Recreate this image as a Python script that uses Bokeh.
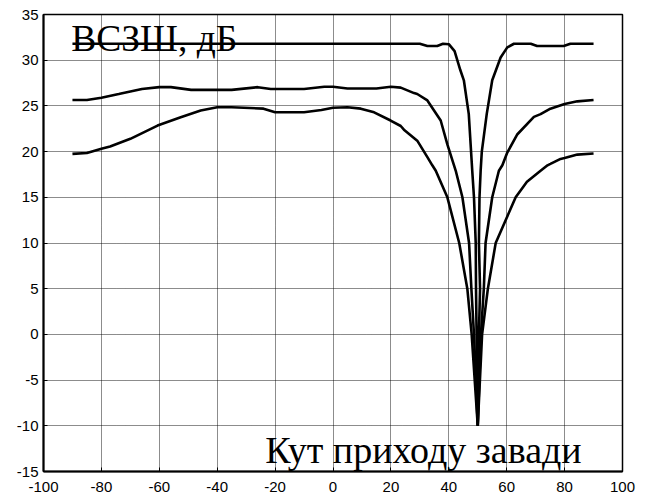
from bokeh.plotting import figure
from bokeh.models import Range1d, FixedTicker, Label, CustomJSTickFormatter
from bokeh.embed import file_html
from bokeh.resources import INLINE

# --- data ---
x_ticks = [-100, -80, -60, -40, -20, 0, 20, 40, 60, 80, 100]
y_ticks = [-15, -10, -5, 0, 5, 10, 15, 20, 25, 30, 35]

top_x = [-90, -70, -50, -30, -10, 10, 30, 32.6, 36, 38, 40, 42, 44, 45.2, 46.9, 48.1,
         48.7, 49.3, 49.4, 49.6, 50, 50.4, 50.8, 50.4, 50.6, 51.0, 51.4, 53.1, 55.0,
         57.9, 60.2, 62.5, 68.3, 70.5, 79.7, 82, 90]
top_y = [31.8, 31.8, 31.8, 31.8, 31.8, 31.8, 31.8, 31.55, 31.55, 31.8, 31.75, 31.0, 28.9,
         27.8, 24.1, 17.9, 15.0, 10.0, 5.0, 0.0, -10.0, 0.0, 5.0, 10.0, 15.0, 17.9, 20.0,
         24.1, 27.8, 30.3, 31.4, 31.8, 31.8, 31.55, 31.55, 31.8, 31.8]

mid_x = [-90, -85, -80, -74, -66, -60, -56, -49, -35, -26, -21.5, -10, -3, 0, 5, 15, 20,
         23.4, 28, 29.1, 32.6, 34.9, 37.2, 39.5, 41.8, 42.4, 44.7, 47.0, 47.8, 48.7, 50,
         51.1, 52.1, 52.7, 55.0, 57.3, 58.5, 60.2, 63.7, 69.4, 71.7, 75.1, 80, 84.4, 90]
mid_y = [25.65, 25.65, 25.9, 26.3, 26.85, 27.05, 27.05, 26.75, 26.75, 27.05, 26.85, 26.85,
         27.1, 27.1, 26.9, 26.9, 27.1, 27.0, 26.4, 26.3, 25.6, 24.5, 23.4, 20.8, 18.5, 17.9,
         15.0, 10.0, 5.0, 0.0, -10.0, 0.0, 5.0, 10.0, 15.0, 17.9, 18.5, 19.9, 21.9, 23.8,
         24.1, 24.7, 25.2, 25.5, 25.65]

bot_x = [-90, -85, -80, -77, -70, -60.6, -52.6, -45.7, -40, -35, -24, -20, -10, -4, 0, 5,
         9.6, 14.2, 19.9, 23.4, 24.5, 29.1, 32.6, 34.3, 35.5, 39.5, 43.6, 46.4, 47.9, 50,
         51.5, 53.5, 56.2, 63.1, 67, 71.7, 74.1, 75.1, 78.6, 80, 84.4, 90]
bot_y = [19.75, 19.85, 20.3, 20.55, 21.4, 22.85, 23.76, 24.5, 24.85, 24.85, 24.7, 24.3,
         24.3, 24.55, 24.8, 24.85, 24.7, 24.3, 23.4, 22.8, 22.4, 21.2, 19.4, 18.5, 17.9,
         15.0, 10.0, 5.0, 0.0, -10.0, 0.0, 5.0, 10.0, 15.0, 16.7, 17.9, 18.5, 18.65, 19.2,
         19.3, 19.67, 19.8]

title_text = "ВСЗШ, дБ"
xlabel_text = "Кут приходу завади"

p = figure(width=650, height=494, x_range=Range1d(-100, 100), y_range=Range1d(-15, 35),
           output_backend="svg", toolbar_location=None,
           min_border_left=43, min_border_right=28, min_border_top=14, min_border_bottom=23)
p.background_fill_color = "white"
p.border_fill_color = "white"
p.outline_line_color = "black"
p.outline_line_width = 1.5
p.outline_line_alpha = 1

for ax, ticks in ((p.xaxis[0], x_ticks), (p.yaxis[0], y_ticks)):
    ax.ticker = FixedTicker(ticks=ticks)
    ax.formatter = CustomJSTickFormatter(code="return tick.toFixed(0);")
    ax.axis_line_color = "black"
    ax.axis_line_width = 2
    ax.major_tick_in = 4
    ax.major_tick_out = 0
    ax.minor_tick_line_color = None
    ax.major_tick_line_color = "black"
    ax.major_label_text_font = "Liberation Sans"
    ax.major_label_text_font_size = "15px"
    ax.major_label_text_color = "black"
p.xaxis.major_label_standoff = 10
p.yaxis.major_label_standoff = 5

p.grid.grid_line_color = "black"
p.grid.grid_line_dash = "1 1"
p.grid.grid_line_width = 1
p.grid.grid_line_alpha = 0.9

for xs, ys in ((top_x, top_y), (mid_x, mid_y), (bot_x, bot_y)):
    p.line(xs, ys, line_color="black", line_width=2.6)

p.add_layout(Label(x=-90.4, y=32.4, text=title_text, text_font="Liberation Serif",
                   text_font_size="37.5px", text_color="black", text_baseline="alphabetic"))
p.add_layout(Label(x=-23.4, y=-12.6, text=xlabel_text, text_font="Liberation Serif",
                   text_font_size="38px", text_color="black", text_baseline="alphabetic"))

open("out.html", "w").write(file_html(p, INLINE))
